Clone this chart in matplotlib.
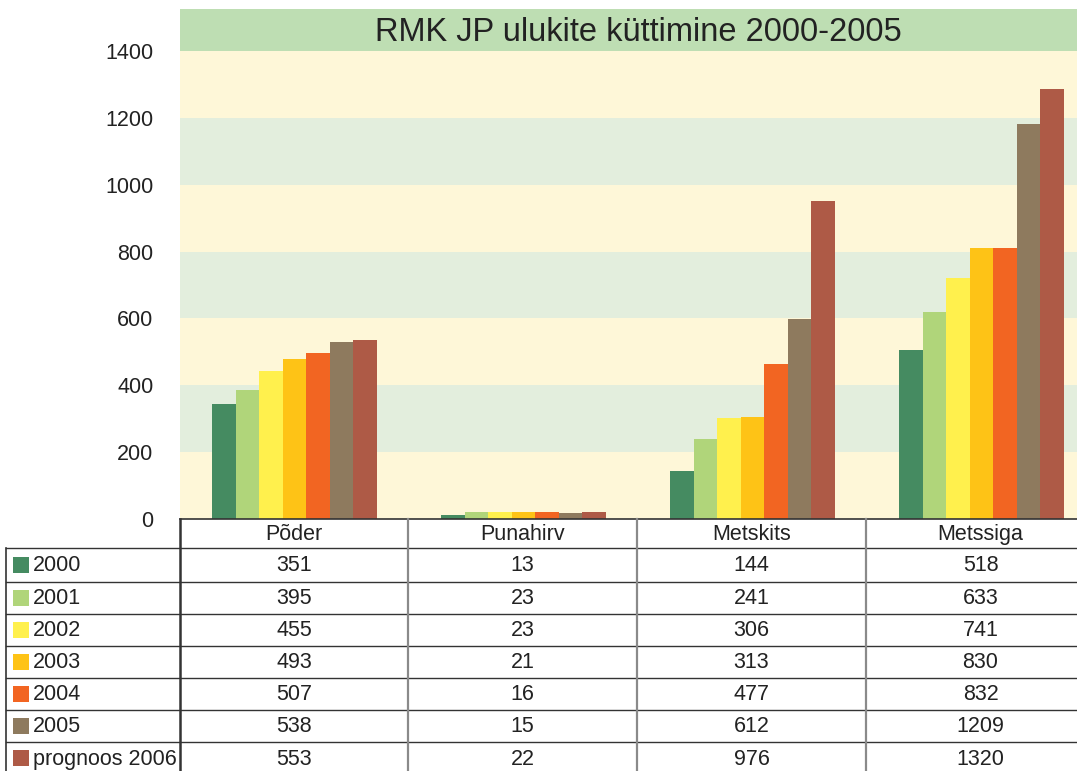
import matplotlib
matplotlib.use("Agg")
import matplotlib.pyplot as plt
import numpy as np

plt.rcParams['font.family'] = ['Liberation Sans', 'DejaVu Sans']

# data
categories = ['Põder', 'Punahirv', 'Metsskits', 'Metssiga']
shown_categories = ['Põder', 'Punahirv', 'Metskits', 'Metssiga']
series = ['2000', '2001', '2002', '2003', '2004', '2005', 'prognoos 2006']
colors = ['#458b61', '#b0d57a', '#fff04d', '#fec316', '#f26522', '#8e7a5e', '#ae5a46']

# numbers printed in the table (rows = series, cols = categories)
table_2000 = [351, 13, 144, 518]
table_2001 = [395, 23, 241, 633]
table_2002 = [455, 23, 306, 741]
table_2003 = [493, 21, 313, 830]
table_2004 = [507, 16, 477, 832]
table_2005 = [538, 15, 612, 1209]
table_2006 = [553, 22, 976, 1320]
table_rows = [table_2000, table_2001, table_2002, table_2003,
              table_2004, table_2005, table_2006]

# bar heights as drawn in the picture
bars_2000 = [345, 12, 144, 507]
bars_2001 = [387, 21, 240, 620]
bars_2002 = [444, 21, 303, 722]
bars_2003 = [480, 21, 306, 812]
bars_2004 = [498, 20, 465, 812]
bars_2005 = [531, 18, 597, 1181]
bars_2006 = [537, 21, 953, 1286]
bar_rows = [bars_2000, bars_2001, bars_2002, bars_2003,
            bars_2004, bars_2005, bars_2006]

yticks = [0, 200, 400, 600, 800, 1000, 1200, 1400]
title = 'RMK JP ulukite küttimine 2000-2005'

W, H = 1077, 771
fig = plt.figure(figsize=(W / 100, H / 100), dpi=100)

# plot area (runs a bit past the right edge, like the cropped original)
ax_l, ax_r, ax_t, ax_b = 180, 1096, 9, 519
ax = fig.add_axes([ax_l / W, 1 - ax_b / H, (ax_r - ax_l) / W, (ax_b - ax_t) / H])
ytop = 1526
ax.set_ylim(0, ytop)
ax.set_xlim(-0.5, 3.5)

band_cols = ['#fef7d8', '#e3eedd']
for i in range(7):
    ax.axhspan(i * 200, (i + 1) * 200, color=band_cols[i % 2], lw=0, zorder=0)
ax.axhspan(1400, ytop, color='#bedeb3', lw=0, zorder=0)
ax.text(1.5, (1400 + ytop) / 2 - 8, title, ha='center', va='center',
        fontsize=23.5, color='#222222')

x = np.arange(len(categories))
bw = 0.103
for i, (vals, c) in enumerate(zip(bar_rows, colors)):
    ax.bar(x + (i - 3) * bw, vals, width=bw, color=c, lw=0, zorder=2)

ax.set_yticks(yticks)
ax.set_yticklabels([str(t) for t in yticks], fontsize=15.5, color='#222222')
ax.tick_params(axis='y', length=0, pad=19)
ax.set_xticks([])
for s in ax.spines.values():
    s.set_visible(False)

# table drawn in pixel coordinates
tb = fig.add_axes([0, 0, 1, 1], facecolor='none')
tb.set_xlim(0, W)
tb.set_ylim(H, 0)
tb.axis('off')

col_x = [180, 408, 637, 866, 1095]
row_y = [519, 548, 581.5, 614, 646, 677.5, 709.5, 742, 774.5]
dark = '#333333'
grey = '#8a8a8a'

# horizontal lines
tb.plot([180, W], [row_y[0]] * 2, color=dark, lw=1.2)
for y in row_y[1:8]:
    tb.plot([6, W], [y, y], color=dark, lw=1.0)
# vertical lines
tb.plot([6, 6], [row_y[1], H], color=dark, lw=1.2)
tb.plot([180, 180], [row_y[0], H], color=dark, lw=1.8)
for cx in col_x[1:4]:
    tb.plot([cx, cx], [row_y[0], H], color=grey, lw=1.6)

txt_kw = dict(fontsize=15.5, color='#222222', va='center')
for j, name in enumerate(shown_categories):
    tb.text((col_x[j] + col_x[j + 1]) / 2, (row_y[0] + row_y[1]) / 2 + 1, name,
            ha='center', **txt_kw)

for i, (lab, c, vals) in enumerate(zip(series, colors, table_rows)):
    yc = (row_y[i + 1] + row_y[i + 2]) / 2
    tb.add_patch(plt.Rectangle((13, yc - 8), 16, 16, color=c, lw=0))
    tb.text(33, yc + 1, lab, ha='left', **txt_kw)
    for j, v in enumerate(vals):
        tb.text((col_x[j] + col_x[j + 1]) / 2, yc + 1, str(v), ha='center', **txt_kw)

fig.savefig('out.png', dpi=100, facecolor='white')
